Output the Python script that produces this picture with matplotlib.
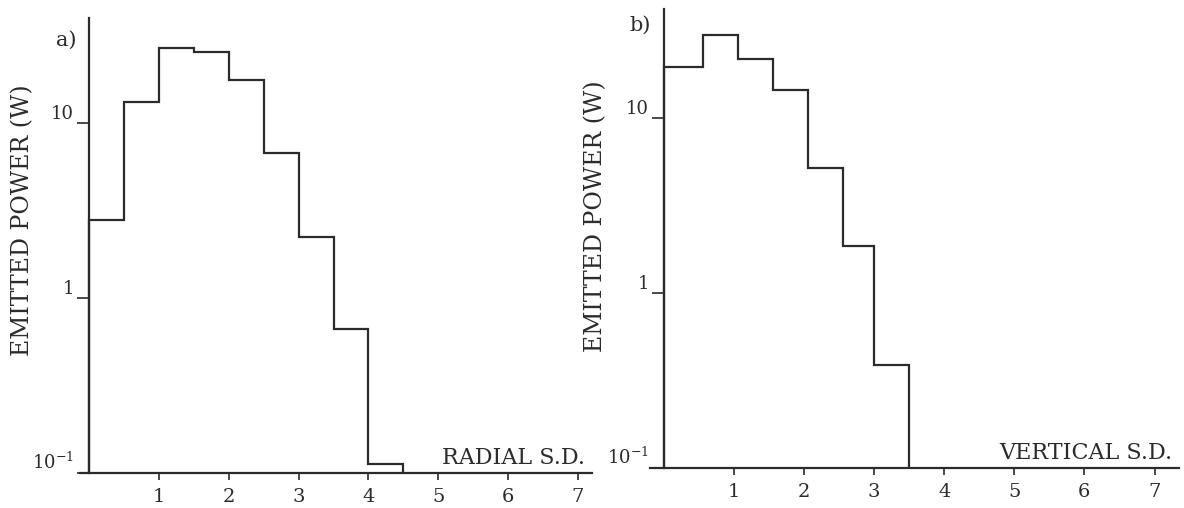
"""
Emitted power histograms vs radial / vertical S.D. (two panels, log scale).

Saves out.png
"""

import matplotlib
matplotlib.use("Agg")
import matplotlib.pyplot as plt

# panel a) radial
radialEdges = [0, 0.5, 1.0, 1.5, 2.0, 2.5, 3.0, 3.5, 4.0, 4.5]
radialPower = [2.8, 13.2, 26.8, 25.5, 17.6, 6.8, 2.25, 0.67, 0.112]

# panel b) vertical
verticalEdges = [0, 0.55, 1.05, 1.55, 2.05, 2.55, 3.0, 3.5]
verticalPower = [19.7, 30.0, 21.9, 14.4, 5.2, 1.85, 0.39]

xTicks = [1, 2, 3, 4, 5, 6, 7]
yTicks = [0.1, 1, 10]
yTickLabels = ["10$^{-1}$", "1", "10"]

plt.rcParams["font.family"] = ["DejaVu Serif"]
plt.rcParams["mathtext.fontset"] = "dejavuserif"
inkColor = "#2b2b2b"

fig = plt.figure(figsize=(11.84, 5.08), dpi=100)
axA = fig.add_axes([0.0676, 0.0689, 0.4324, 0.8957])
axB = fig.add_axes([0.549, 0.0787, 0.4468, 0.9035])


def styleAxis(ax, xMax, yMax, axisLabel):
    ax.set_yscale("log")
    ax.set_xlim(-0.13, xMax)
    ax.set_ylim(0.1, yMax)
    ax.spines["top"].set_visible(False)
    ax.spines["right"].set_visible(False)
    ax.spines["left"].set_position(("data", 0))
    for side in ("left", "bottom"):
        ax.spines[side].set_linewidth(1.6)
        ax.spines[side].set_color(inkColor)
    ax.set_xticks(xTicks)
    ax.set_xticklabels([str(t) for t in xTicks])
    ax.set_yticks(yTicks)
    ax.set_yticklabels(yTickLabels)
    ax.minorticks_off()
    ax.tick_params(axis="x", direction="out", length=5, width=1.2, color=inkColor,
                   labelsize=14, labelcolor=inkColor, pad=6)
    ax.tick_params(axis="y", direction="out", length=9, width=1.2, color=inkColor,
                   labelsize=13, labelcolor=inkColor, pad=2)
    plt.setp(ax.get_yticklabels(), va="bottom")
    ax.text(xMax - 0.1, 0.106, axisLabel, ha="right", va="bottom", fontsize=16, color=inkColor)


axA.stairs(radialPower, radialEdges, baseline=0.1, color=inkColor, linewidth=1.6)
styleAxis(axA, 7.2, 40, "RADIAL S.D.")

axB.stairs(verticalPower, verticalEdges, baseline=0.1, color=inkColor, linewidth=1.6)
styleAxis(axB, 7.35, 42, "VERTICAL S.D.")
axB.set_xlim(-0.2, 7.35)

fig.text(0.019, 0.567, "EMITTED POWER (W)", rotation=90, ha="center", va="center",
         fontsize=17, color=inkColor)
fig.text(0.503, 0.575, "EMITTED POWER (W)", rotation=90, ha="center", va="center",
         fontsize=17, color=inkColor)
fig.text(0.047, 0.92, "a)", ha="left", va="center", fontsize=15, color=inkColor)
fig.text(0.532, 0.95, "b)", ha="left", va="center", fontsize=15, color=inkColor)

fig.savefig("out.png", dpi=100)
